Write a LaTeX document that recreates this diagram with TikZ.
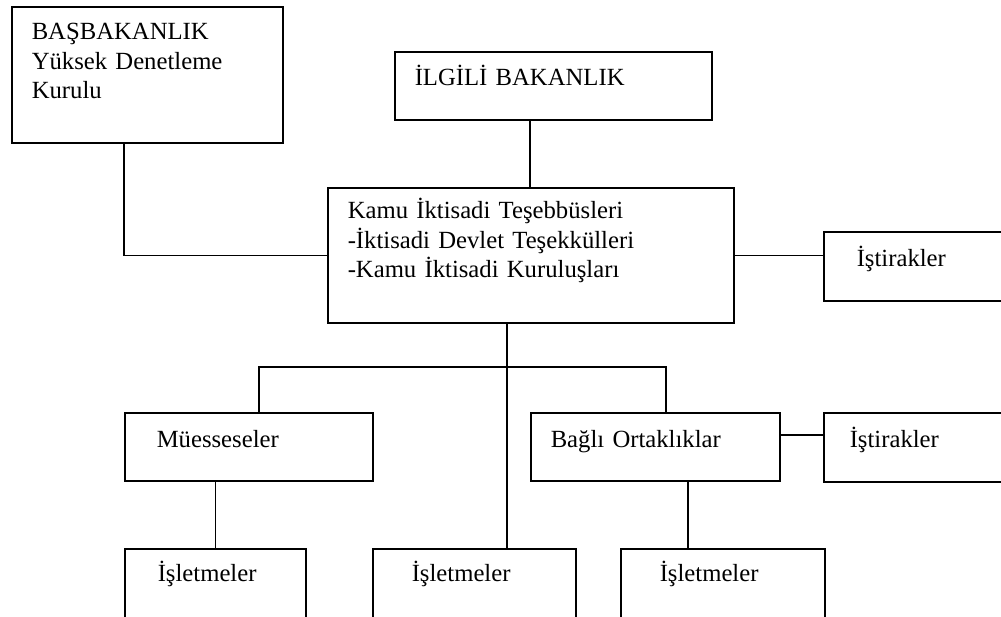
\documentclass[tikz,border=0pt]{standalone}
\usepackage{fontspec}
\setmainfont{Liberation Serif}
\usepackage{tikz}

\begin{document}
\begin{tikzpicture}[x=1pt,y=-1pt,kutu/.style={draw,line width=1.5pt,anchor=north west,align=left,inner ysep=0pt,font=\fontsize{24.7}{29.5}\selectfont}] %
    \useasboundingbox (0,0) rectangle (1001,616); %
    \clip (0,0) rectangle (1001,616); %
    \node[kutu, inner xsep=20pt, text width=231pt, text height=33pt, text depth=103pt] (bas) at (11,6) {BAŞBAKANLIK\\Yüksek Denetleme\\Kurulu} ; %
    \node[kutu, inner xsep=20pt, text width=277pt, text height=34pt, text depth=34pt] (ilgili) at (394,51) {İLGİLİ BAKANLIK} ; %
    \node[kutu, inner xsep=20pt, text width=366pt, text height=31pt, text depth=104pt] (kamu) at (327,187) {Kamu İktisadi Teşebbüsleri\\-İktisadi Devlet Teşekkülleri\\-Kamu İktisadi Kuruluşları} ; %
    \node[kutu, inner xsep=33pt, text width=141pt, text height=35pt, text depth=34pt] (istA) at (823,231) {İştirakler};
    \node[kutu, inner xsep=32pt, text width=184pt, text height=35pt, text depth=33pt] (mue) at (124,412) {Müesseseler};
    \node[kutu, inner xsep=20pt, text width=209pt, text height=35pt, text depth=33pt] (bagli) at (530,412) {Bağlı Ortaklıklar};
    \node[kutu, inner xsep=26pt, text width=155pt, text height=35pt, text depth=34pt] (istB) at (823,412) {İştirakler};
    \node[kutu, inner xsep=33pt, text width=115pt, text height=33pt, text depth=59pt] (islA) at (124,548) {İşletmeler};
    \node[kutu, inner xsep=39pt, text width=125pt, text height=33pt, text depth=59pt] (islB) at (372,548) {İşletmeler};
    \node[kutu, inner xsep=39pt, text width=126pt, text height=33pt, text depth=59pt] (islC) at (620,548) {İşletmeler};
    \draw[line width=1.5pt] (bas.south -| 124,0) |- (kamu.west) ; %
    \draw[line width=1.5pt] (ilgili.south -| 530,0) -- (kamu.north -| 530,0);
    \draw[line width=1.5pt] (kamu.east) -- (kamu.east -| istA.west);
    \draw[line width=1.5pt] (kamu.south -| 507,0) -- (islB.north -| 507,0);
    \draw[line width=1.5pt] (mue.north -| 259,0) |- (666,367) -- (bagli.north -| 666,0);
    \draw[line width=1.5pt] (mue.south -| islA.north) -- (islA.north);
    \draw[line width=1.5pt] (bagli.south -| 688,0) -- (islC.north -| 688,0);
    \draw[line width=1.5pt] (bagli.east |- 0,435) -- (istB.west |- 0,435);
  \end{tikzpicture}
\end{document}
